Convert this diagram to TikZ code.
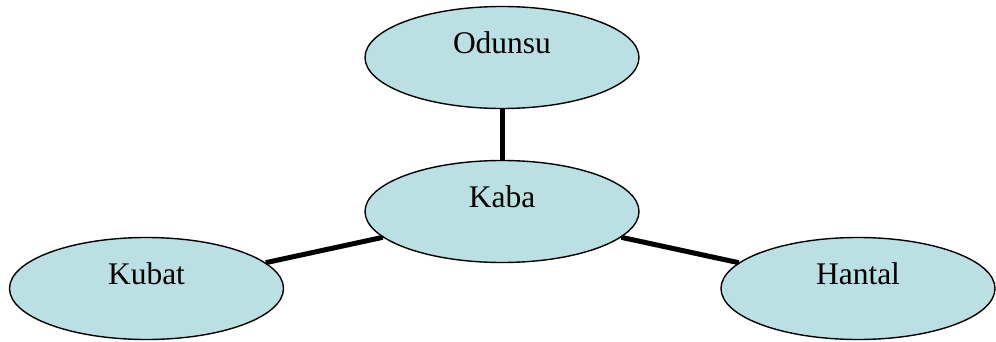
\documentclass[tikz,border=0pt]{standalone}
\usepackage{fontspec}
\setmainfont{Liberation Serif}
\usetikzlibrary{shapes.geometric}
\definecolor{ellfill}{HTML}{BBE0E3}
\tikzset{
  ell/.style={ellipse, draw=black, line width=1.4pt, fill=ellfill, minimum width=274pt, minimum height=102pt, inner sep=0pt},
  lbl/.style={anchor=base, inner sep=0pt, font=\fontsize{31.5}{36}\selectfont},
  conn/.style={line width=5pt, black}
}
\begin{document}
\begin{tikzpicture}[x=1pt,y=1pt]
\useasboundingbox (0,0) rectangle (996,341);
\node[ell] (odunsu) at (502,283.5) {};
\node[ell] (kaba) at (502,129.5) {};
\node[ell] (kubat) at (146.5,52.5) {};
\node[ell] (hantal) at (858,52.5) {};
\draw[conn] (odunsu) -- (kaba);
\draw[conn] (kaba) -- (kubat);
\draw[conn] (kaba) -- (hantal);
\node[lbl] (t1) at ([yshift=4pt]odunsu.center) {Odunsu};
\node[lbl] (t2) at ([yshift=4pt]kaba.center) {Kaba};
\node[lbl] (t3) at ([yshift=4pt]kubat.center) {Kubat};
\node[lbl] (t4) at ([yshift=4pt]hantal.center) {Hantal};
\end{tikzpicture}
\end{document}
